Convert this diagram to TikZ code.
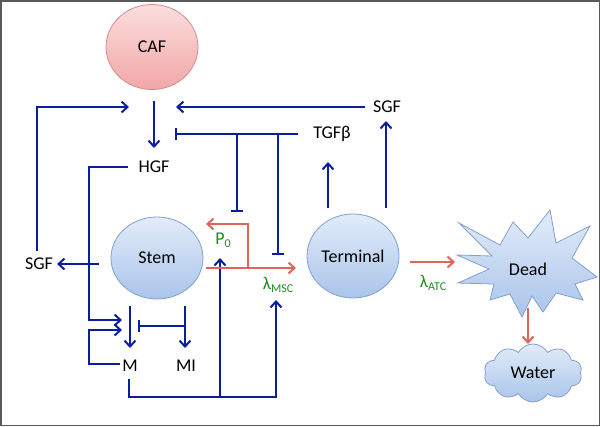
\documentclass[tikz,border=0pt]{standalone}
\usepackage{fontspec}
\setmainfont{Carlito}
\usetikzlibrary{arrows.meta,shapes.geometric,shapes.symbols}
\definecolor{dblue}{RGB}{12,30,160}
\definecolor{rred}{RGB}{222,100,92}
\definecolor{ggreen}{RGB}{30,140,30}
\definecolor{bltop}{RGB}{226,236,249}
\definecolor{blbot}{RGB}{170,196,234}
\definecolor{bledge}{RGB}{130,160,210}
\definecolor{pktop}{RGB}{252,222,222}
\definecolor{pkbot}{RGB}{242,166,166}
\definecolor{pkedge}{RGB}{214,140,140}
\newcommand{\sbs}[1]{\raisebox{-0.4ex}{\fontsize{12}{12}\selectfont #1}}
\tikzset{
  lbl/.style={font=\fontsize{18}{20}\selectfont, inner sep=0pt},
  glbl/.style={lbl, text=ggreen},
  cell/.style={ellipse, draw=bledge, line width=0.8pt, top color=bltop, bottom color=blbot, inner sep=0pt, font=\fontsize{18}{20}\selectfont},
  barr/.style={draw=dblue, line width=2pt, -{Straight Barb[length=6pt,width=11pt]}},
  binh/.style={draw=dblue, line width=2pt, -{Bar[width=12pt,line width=2pt]}},
  bline/.style={draw=dblue, line width=2pt},
  rarr/.style={draw=rred, line width=2pt, -{Straight Barb[length=6pt,width=11pt]}},
  rline/.style={draw=rred, line width=2pt},
}
\begin{document}
\begin{tikzpicture}[x=1pt,y=-1pt]
\useasboundingbox (0,0) rectangle (600,426);
\draw[line width=1.5pt, black!65] (0.75,0.75) rectangle (599.25,425.25);

% nodes
\node[ellipse, draw=pkedge, line width=0.8pt, top color=pktop, bottom color=pkbot, minimum width=92pt, minimum height=85pt, inner sep=0pt, font=\fontsize{18}{20}\selectfont] (caf) at (152,47) {CAF};
\node[cell, minimum width=92pt, minimum height=82pt] (stem) at (157,258) {Stem};
\node[cell, minimum width=92pt, minimum height=84pt] (term) at (353,256) {Terminal};
\node[lbl] (hgf) at (154,167) {HGF};
\node[lbl] (sgfL) at (39,264) {SGF};
\node[lbl] (sgfR) at (387,107) {SGF};
\node[lbl] (tgf) at (332,134) {TGFβ};
\node[lbl] (M) at (130,366) {M};
\node[lbl] (MI) at (186,366) {MI};
\node[glbl] (p0) at (223,240) {P\sbs{0}};
\node[glbl] (lmsc) at (278,285) {λ\sbs{MSC}};
\node[glbl] (latc) at (433,283) {λ\sbs{ATC}};

% Dead star
\path[draw=bledge, line width=0.8pt, top color=bltop, bottom color=blbot]
  (459,223) -- (500,245) -- (513,222) -- (528,238) -- (550,210) -- (556,243)
  -- (590,226) -- (572,258) -- (597,277) -- (575,284) -- (583,300) -- (556,293)
  -- (543,312) -- (532,296) -- (522,317) -- (510,294) -- (490,300) -- (494,284)
  -- (458,283) -- (489,269) -- (457,255) -- (492,256) -- cycle;
\node[lbl] (dead) at (528,269) {Dead};

% Water cloud
\node[cloud, cloud puffs=10, cloud puff arc=120, cloud ignores aspect, minimum width=98pt, minimum height=58pt, inner sep=0pt,
  draw=bledge, line width=0.8pt, top color=bltop, bottom color=blbot, font=\fontsize{18}{20}\selectfont] (water) at (533,373) {\raisebox{-0.5ex}{Water}};

% coordinates
\coordinate (cafout) at (154,101);
\coordinate (hgfin) at (154,148);
\coordinate (leftin) at (129,107);
\coordinate (rightin) at (176,107);
\coordinate (sgfLup) at (37,251);
\coordinate (cL) at (37,107);
\coordinate (sgfRw) at (365,107);
\coordinate (tgfw) at (298,134);
\coordinate (inhT) at (175,134);
\coordinate (j1) at (237,134);
\coordinate (j1e) at (237,212);
\coordinate (j2) at (278,134);
\coordinate (j2e) at (278,255);
\coordinate (hgfw) at (128,167);
\coordinate (h1) at (89,167);
\coordinate (h2) at (89,320);
\coordinate (hin) at (122,320);
\coordinate (mw) at (120,364);
\coordinate (m1) at (89,364);
\coordinate (m2) at (89,330);
\coordinate (min) at (122,330);
\coordinate (vtop) at (130,306);
\coordinate (vbot) at (130,348);
\coordinate (mitop) at (185,306);
\coordinate (mibot) at (185,348);
\coordinate (inhM) at (185,326);
\coordinate (inhMe) at (138,326);
\coordinate (ms) at (129,379);
\coordinate (mb) at (129,397);
\coordinate (pb) at (220,397);
\coordinate (pt) at (220,258);
\coordinate (lb) at (276,397);
\coordinate (lt) at (276,300);
\coordinate (stemw) at (99,264);
\coordinate (sgfLe) at (57,264);
\coordinate (stemE) at (206,268);
\coordinate (msce) at (296,268);
\coordinate (br) at (248,268);
\coordinate (brt) at (248,224);
\coordinate (p0e) at (206,224);
\coordinate (t1b) at (328,208);
\coordinate (t1t) at (328,162);
\coordinate (t2b) at (386,208);
\coordinate (t2t) at (386,121);
\coordinate (termE) at (410,262);
\coordinate (deadW) at (455,262);
\coordinate (deadS) at (528,308);
\coordinate (waterN) at (528,344);

% blue connectors
\draw[barr] (cafout) -- (hgfin);
\draw[barr] (sgfLup) -- (cL) -- (leftin);
\draw[barr] (sgfRw) -- (rightin);
\draw[binh] (tgfw) -- (inhT);
\draw[binh] (j1) -- (j1e);
\draw[binh] (j2) -- (j2e);
\draw[barr] (hgfw) -- (h1) -- (h2) -- (hin);
\draw[barr] (mw) -- (m1) -- (m2) -- (min);
\draw[barr] (vtop) -- (vbot);
\draw[barr] (mitop) -- (mibot);
\draw[binh] (inhM) -- (inhMe);
\draw[barr] (ms) -- (mb) -- (lb) -- (lt);
\draw[barr] (pb) -- (pt);
\draw[barr] (stemw) -- (sgfLe);
\draw[barr] (t1b) -- (t1t);
\draw[barr] (t2b) -- (t2t);

% red connectors
\draw[rarr] (stemE) -- (msce);
\draw[rarr] (br) -- (brt) -- (p0e);
\draw[rarr] (termE) -- (deadW);
\draw[rarr] (deadS) -- (waterN);
\end{tikzpicture}
\end{document}
